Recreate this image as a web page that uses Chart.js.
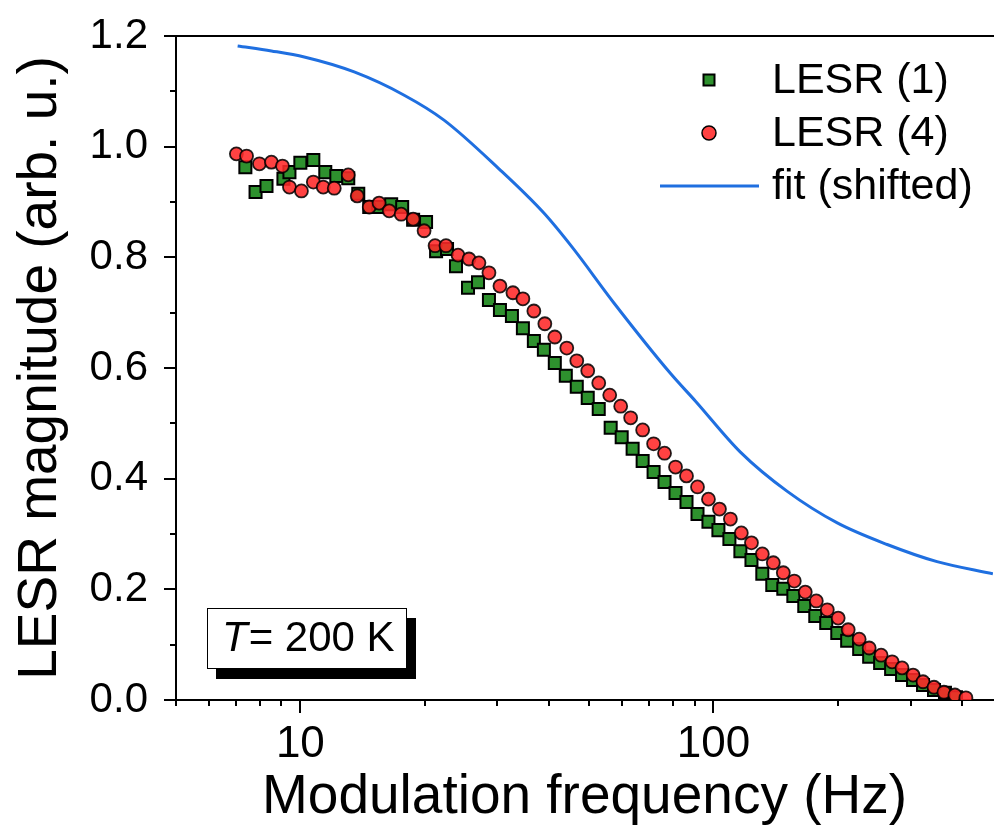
<!DOCTYPE html>
<html>
<head>
<meta charset="utf-8">
<script src="https://cdn.jsdelivr.net/npm/chart.js@4.4.0/dist/chart.umd.min.js"></script>
<style>
  html, body { margin: 0; padding: 0; background: #fff; overflow: hidden; }
  canvas { display: block; }
</style>
</head>
<body>
<canvas id="lesrChart" width="994" height="832"></canvas>
<script>
// LESR (1) - green squares
const freqLESR1 = [7.36, 7.79, 8.28, 9.10, 9.41, 10.0, 10.75, 11.49, 12.22, 13.06, 13.81, 14.68, 15.43, 16.59, 17.64, 18.75,
  20.15, 21.31, 22.65, 23.81, 25.46, 26.92, 28.61, 30.42, 32.52, 34.57, 36.75, 38.86, 41.30, 43.91, 46.68, 49.62, 52.76,
  56.39, 59.96, 63.73, 67.39, 71.63, 76.13, 80.94, 86.05, 91.49, 97.25, 102.8, 109.3, 116.2, 123.6, 131.3, 138.8, 147.6,
  156.1, 165.9, 176.4, 187.5, 199.4, 210.7, 225.3, 238.2, 253.2, 269.2, 286.1, 304.2, 321.6, 341.9, 363.4, 386.4];
const magLESR1 = [0.963, 0.918, 0.929, 0.942, 0.954, 0.971, 0.976, 0.954, 0.947, 0.943, 0.915, 0.891, 0.891, 0.896, 0.891, 0.868,
  0.864, 0.811, 0.815, 0.784, 0.745, 0.755, 0.723, 0.705, 0.694, 0.672, 0.649, 0.633, 0.609, 0.586, 0.566, 0.546, 0.526,
  0.492, 0.475, 0.454, 0.432, 0.412, 0.394, 0.374, 0.358, 0.336, 0.322, 0.307, 0.291, 0.269, 0.253, 0.228, 0.208, 0.201,
  0.188, 0.170, 0.152, 0.139, 0.121, 0.107, 0.092, 0.078, 0.067, 0.056, 0.045, 0.036, 0.027, 0.018, 0.013, 0.005];

// LESR (4) - red circles
const freqLESR4 = [7.00, 7.41, 7.96, 8.51, 9.05, 9.41, 10.06, 10.75, 11.36, 12.08, 13.06, 13.73, 14.68, 15.51, 16.41, 17.54,
  18.75, 19.93, 21.19, 22.52, 24.08, 25.60, 27.06, 28.61, 30.42, 32.70, 34.57, 36.75, 39.07, 41.30, 44.15, 46.68, 49.62,
  52.76, 56.09, 59.63, 63.03, 67.39, 71.63, 76.13, 80.94, 86.05, 91.49, 97.25, 103.4, 109.9, 116.8, 123.6, 131.3, 139.6,
  147.6, 156.9, 166.8, 177.4, 188.6, 200.4, 211.9, 225.3, 238.2, 254.6, 270.7, 286.1, 304.2, 321.6, 341.9, 361.4, 384.2, 408.4];
const magLESR4 = [0.987, 0.983, 0.969, 0.972, 0.965, 0.927, 0.920, 0.936, 0.927, 0.925, 0.949, 0.911, 0.891, 0.898, 0.884, 0.878,
  0.869, 0.848, 0.821, 0.821, 0.804, 0.797, 0.790, 0.772, 0.748, 0.736, 0.725, 0.703, 0.680, 0.656, 0.636, 0.613, 0.595,
  0.573, 0.551, 0.531, 0.510, 0.488, 0.463, 0.446, 0.421, 0.405, 0.385, 0.363, 0.345, 0.327, 0.302, 0.284, 0.264, 0.248,
  0.230, 0.215, 0.195, 0.179, 0.163, 0.148, 0.127, 0.110, 0.094, 0.081, 0.069, 0.058, 0.045, 0.033, 0.023, 0.014, 0.009, 0.004];

// fit (shifted) - blue line
const freqFit = [7.05, 8.51, 10.22, 13.50, 17.84, 22.27, 30.25, 38.86, 45.64, 57.36, 78.74, 90.49, 116.2, 150.9, 199.4, 263.3, 347.7, 474.7];
const magFit = [1.182, 1.173, 1.162, 1.135, 1.093, 1.048, 0.960, 0.880, 0.817, 0.718, 0.590, 0.540, 0.448, 0.377, 0.320, 0.281, 0.250, 0.228];

// axis ticks
const xTickValues = [5, 6, 7, 8, 9, 10, 20, 30, 40, 50, 60, 70, 80, 90, 100, 200, 300, 400];
const xTickLabels = { 10: '10', 100: '100' };
const yMin = 0, yMax = 1.2, yStep = 0.1;

const FONT = "'Liberation Sans', Arial, sans-serif";
const GREEN = 'rgb(46,145,46)';
const RED = 'rgba(255,40,40,0.88)';
const BLUE = '#1f6fe0';

function toPoints(xs, ys) {
  return xs.map((x, i) => ({ x: x, y: ys[i] }));
}

function isMajorY(v) {
  return Math.round(v * 10) % 2 === 0;
}

// draws tick marks, the top frame line, the legend and the temperature box
const decorations = {
  id: 'decorations',
  afterDraw(chart) {
    const { ctx, chartArea, scales } = chart;
    const xs = scales.x, ys = scales.y;
    ctx.save();
    ctx.strokeStyle = '#000';
    ctx.lineWidth = 2;

    ctx.beginPath();
    ctx.moveTo(chartArea.left - 1, chartArea.top);
    ctx.lineTo(chartArea.right + 2, chartArea.top);
    xTickValues.forEach(v => {
      const px = Math.round(xs.getPixelForValue(v));
      const len = xTickLabels[v] ? 13 : 6;
      ctx.moveTo(px, chartArea.bottom);
      ctx.lineTo(px, chartArea.bottom + len);
    });
    ys.ticks.forEach(t => {
      const py = Math.round(ys.getPixelForValue(t.value));
      const len = isMajorY(t.value) ? 12 : 6;
      ctx.moveTo(chartArea.left, py);
      ctx.lineTo(chartArea.left - len, py);
    });
    ctx.stroke();

    // legend
    const lx = chartArea.right - 284;
    const ly = chartArea.top + 44;
    const rowH = 53;
    ctx.font = '43px ' + FONT;
    ctx.textBaseline = 'middle';
    ctx.textAlign = 'left';
    chart.data.datasets.forEach((ds, i) => {
      const cy = ly + i * rowH;
      if (ds.showLine) {
        ctx.strokeStyle = ds.borderColor;
        ctx.lineWidth = ds.borderWidth;
        ctx.beginPath();
        ctx.moveTo(lx - 49, cy);
        ctx.lineTo(lx + 50, cy);
        ctx.stroke();
      } else if (ds.pointStyle === 'rect') {
        ctx.fillStyle = ds.backgroundColor;
        ctx.strokeStyle = '#000';
        ctx.lineWidth = 2;
        ctx.fillRect(lx - 5.5, cy - 5.5, 11, 11);
        ctx.strokeRect(lx - 5.5, cy - 5.5, 11, 11);
      } else {
        ctx.fillStyle = ds.backgroundColor;
        ctx.strokeStyle = '#000';
        ctx.lineWidth = 1.5;
        ctx.beginPath();
        ctx.arc(lx, cy, 7, 0, Math.PI * 2);
        ctx.fill();
        ctx.stroke();
      }
      ctx.fillStyle = '#000';
      ctx.fillText(ds.label, lx + 63, cy + 1);
    });

    // T = 200 K box with drop shadow
    const bx = chartArea.left + 31, by = chartArea.bottom - 92, bw = 200, bh = 61;
    ctx.fillStyle = '#000';
    ctx.fillRect(bx + 9, by + 10, bw, bh);
    ctx.fillStyle = '#fff';
    ctx.fillRect(bx, by, bw, bh);
    ctx.lineWidth = 1;
    ctx.strokeStyle = '#000';
    ctx.strokeRect(bx + 0.5, by + 0.5, bw - 1, bh - 1);
    ctx.fillStyle = '#000';
    ctx.font = 'italic 42px ' + FONT;
    ctx.fillText('T', bx + 15, by + bh / 2 + 1);
    const tw = ctx.measureText('T').width;
    ctx.font = '42px ' + FONT;
    ctx.fillText('= 200 K', bx + 15 + tw + 1, by + bh / 2 + 1);
    ctx.restore();
  }
};

const config = {
  type: 'scatter',
  data: {
    datasets: [
      {
        label: 'LESR (1)',
        data: toPoints(freqLESR1, magLESR1),
        pointStyle: 'rect',
        pointRadius: 8.5,
        backgroundColor: GREEN,
        borderColor: '#000',
        borderWidth: 2,
        order: 2
      },
      {
        label: 'LESR (4)',
        data: toPoints(freqLESR4, magLESR4),
        pointStyle: 'circle',
        pointRadius: 6.5,
        backgroundColor: RED,
        borderColor: 'rgba(0,0,0,0.85)',
        borderWidth: 1.8,
        order: 1
      },
      {
        label: 'fit (shifted)',
        data: toPoints(freqFit, magFit),
        showLine: true,
        pointRadius: 0,
        borderColor: BLUE,
        backgroundColor: BLUE,
        borderWidth: 3,
        cubicInterpolationMode: 'monotone',
        order: 3
      }
    ]
  },
  options: {
    responsive: false,
    animation: false,
    devicePixelRatio: 1,
    layout: { autoPadding: false, padding: { top: 36, right: 1, left: 0, bottom: 0 } },
    plugins: {
      legend: { display: false },
      tooltip: { enabled: false }
    },
    scales: {
      x: {
        type: 'logarithmic',
        min: 5,
        max: 475,
        grid: { display: false, drawTicks: false },
        border: { display: true, color: '#000', width: 2 },
        afterBuildTicks: scale => { scale.ticks = xTickValues.map(v => ({ value: v })); },
        afterFit: scale => {
          scale.height = 132;
          scale.paddingLeft = 0;
          scale.paddingRight = 0;
        },
        ticks: {
          autoSkip: false,
          maxRotation: 0,
          padding: 18,
          color: '#000',
          font: { family: FONT, size: 44 },
          callback: value => xTickLabels[value] || ''
        },
        title: {
          display: true,
          text: 'Modulation frequency (Hz)',
          color: '#000',
          font: { family: FONT, size: 55 },
          padding: { top: 0, bottom: 1 }
        }
      },
      y: {
        min: yMin,
        max: yMax,
        grid: { display: false, drawTicks: false },
        border: { display: true, color: '#000', width: 2 },
        afterFit: scale => {
          scale.width = 176;
          scale.paddingTop = 0;
          scale.paddingBottom = 0;
        },
        ticks: {
          stepSize: yStep,
          autoSkip: false,
          padding: 28,
          color: '#000',
          font: { family: FONT, size: 42 },
          callback: value => isMajorY(value) ? value.toFixed(1) : ''
        },
        title: {
          display: true,
          text: 'LESR magnitude (arb. u.)',
          color: '#000',
          font: { family: FONT, size: 55 },
          padding: { top: 8, bottom: 0 }
        }
      }
    }
  },
  plugins: [decorations]
};

const lesrChart = new Chart(document.getElementById('lesrChart'), config);
</script>
</body>
</html>
